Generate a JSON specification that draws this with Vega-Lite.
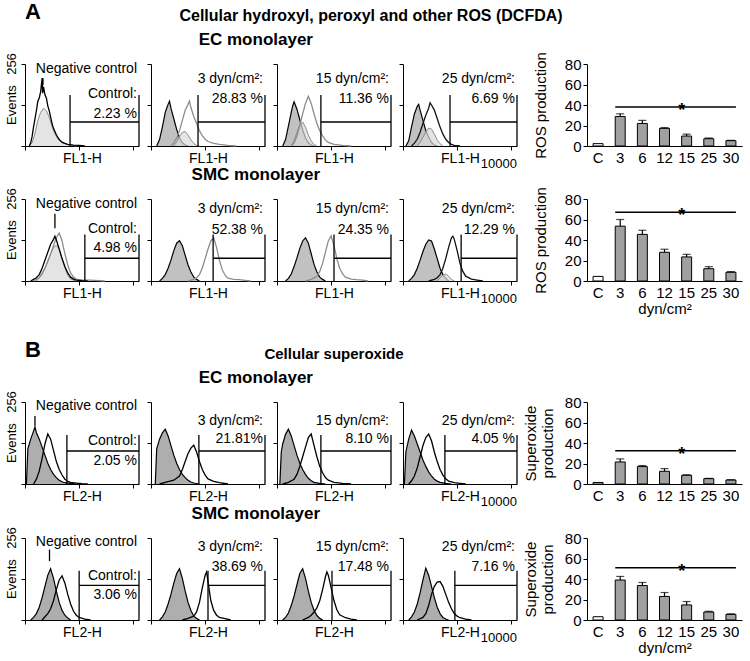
{
"$schema":"https://vega.github.io/schema/vega-lite/v6.json",
"padding":{"left":5,"top":0,"right":5,"bottom":3},
"config":{"font":"Liberation Sans","view":{"stroke":null},"axis":{"domainColor":"black","tickColor":"black","labelColor":"black","titleColor":"black","labelFont":"Liberation Sans","titleFont":"Liberation Sans"},"title":{"color":"black","font":"Liberation Sans"},"text":{"color":"black"}},
"datasets":{
"A1":[
{"p":1,"s":"info","gate":1.58,"nc":0.63,"t1":"Negative control","t2":"Control:","t3":"2.23 %"},
{"p":2,"s":"info","gate":1.65,"t1":"3 dyn/cm²:","t2":"28.83 %"},
{"p":3,"s":"info","gate":1.54,"t1":"15 dyn/cm²:","t2":"11.36 %"},
{"p":4,"s":"info","gate":1.65,"t1":"25 dyn/cm²:","t2":"6.69 %"},
{"p":1,"s":"neg","lg":0.15,"ev":0},{"p":1,"s":"neg","lg":0.2,"ev":10},{"p":1,"s":"neg","lg":0.25,"ev":30},{"p":1,"s":"neg","lg":0.3,"ev":60},{"p":1,"s":"neg","lg":0.35,"ev":85},{"p":1,"s":"neg","lg":0.4,"ev":110},{"p":1,"s":"neg","lg":0.45,"ev":140},{"p":1,"s":"neg","lg":0.5,"ev":150},{"p":1,"s":"neg","lg":0.55,"ev":170},{"p":1,"s":"neg","lg":0.6,"ev":212},{"p":1,"s":"neg","lg":0.62,"ev":165},{"p":1,"s":"neg","lg":0.65,"ev":185},{"p":1,"s":"neg","lg":0.7,"ev":160},{"p":1,"s":"neg","lg":0.75,"ev":150},{"p":1,"s":"neg","lg":0.8,"ev":125},{"p":1,"s":"neg","lg":0.85,"ev":110},{"p":1,"s":"neg","lg":0.9,"ev":90},{"p":1,"s":"neg","lg":0.95,"ev":70},{"p":1,"s":"neg","lg":1.0,"ev":55},{"p":1,"s":"neg","lg":1.1,"ev":35},{"p":1,"s":"neg","lg":1.2,"ev":20},{"p":1,"s":"neg","lg":1.3,"ev":12},{"p":1,"s":"neg","lg":1.4,"ev":8},{"p":1,"s":"neg","lg":1.5,"ev":5},{"p":1,"s":"neg","lg":1.7,"ev":3},{"p":1,"s":"neg","lg":1.9,"ev":2},{"p":1,"s":"neg","lg":2.1,"ev":0},
{"p":1,"s":"lt","lg":0.15,"ev":0},{"p":1,"s":"lt","lg":0.25,"ev":10},{"p":1,"s":"lt","lg":0.35,"ev":40},{"p":1,"s":"lt","lg":0.45,"ev":80},{"p":1,"s":"lt","lg":0.55,"ev":105},{"p":1,"s":"lt","lg":0.65,"ev":118},{"p":1,"s":"lt","lg":0.75,"ev":110},{"p":1,"s":"lt","lg":0.85,"ev":90},{"p":1,"s":"lt","lg":0.95,"ev":60},{"p":1,"s":"lt","lg":1.05,"ev":38},{"p":1,"s":"lt","lg":1.15,"ev":22},{"p":1,"s":"lt","lg":1.3,"ev":10},{"p":1,"s":"lt","lg":1.5,"ev":4},{"p":1,"s":"lt","lg":1.8,"ev":0},
{"p":2,"s":"neg","lg":0.2,"ev":0},{"p":2,"s":"neg","lg":0.3,"ev":20},{"p":2,"s":"neg","lg":0.4,"ev":60},{"p":2,"s":"neg","lg":0.5,"ev":105},{"p":2,"s":"neg","lg":0.55,"ev":118},{"p":2,"s":"neg","lg":0.6,"ev":130},{"p":2,"s":"neg","lg":0.65,"ev":140},{"p":2,"s":"neg","lg":0.7,"ev":118},{"p":2,"s":"neg","lg":0.8,"ev":85},{"p":2,"s":"neg","lg":0.9,"ev":52},{"p":2,"s":"neg","lg":1.0,"ev":26},{"p":2,"s":"neg","lg":1.1,"ev":10},{"p":2,"s":"neg","lg":1.2,"ev":3},{"p":2,"s":"neg","lg":1.3,"ev":0},
{"p":2,"s":"test","lg":0.7,"ev":0},{"p":2,"s":"test","lg":0.8,"ev":10},{"p":2,"s":"test","lg":0.9,"ev":25},{"p":2,"s":"test","lg":1.0,"ev":48},{"p":2,"s":"test","lg":1.1,"ev":80},{"p":2,"s":"test","lg":1.2,"ev":112},{"p":2,"s":"test","lg":1.3,"ev":130},{"p":2,"s":"test","lg":1.35,"ev":140},{"p":2,"s":"test","lg":1.4,"ev":120},{"p":2,"s":"test","lg":1.5,"ev":92},{"p":2,"s":"test","lg":1.6,"ev":70},{"p":2,"s":"test","lg":1.7,"ev":48},{"p":2,"s":"test","lg":1.8,"ev":32},{"p":2,"s":"test","lg":1.9,"ev":21},{"p":2,"s":"test","lg":2.0,"ev":14},{"p":2,"s":"test","lg":2.2,"ev":8},{"p":2,"s":"test","lg":2.4,"ev":5},{"p":2,"s":"test","lg":2.7,"ev":2},{"p":2,"s":"test","lg":3.0,"ev":0},
{"p":2,"s":"lt","lg":0.8,"ev":0},{"p":2,"s":"lt","lg":0.9,"ev":13},{"p":2,"s":"lt","lg":1.0,"ev":30},{"p":2,"s":"lt","lg":1.1,"ev":43},{"p":2,"s":"lt","lg":1.2,"ev":45},{"p":2,"s":"lt","lg":1.3,"ev":34},{"p":2,"s":"lt","lg":1.4,"ev":19},{"p":2,"s":"lt","lg":1.5,"ev":8},{"p":2,"s":"lt","lg":1.6,"ev":2},{"p":2,"s":"lt","lg":1.7,"ev":0},
{"p":3,"s":"neg","lg":0.2,"ev":0},{"p":3,"s":"neg","lg":0.3,"ev":20},{"p":3,"s":"neg","lg":0.4,"ev":62},{"p":3,"s":"neg","lg":0.5,"ev":105},{"p":3,"s":"neg","lg":0.55,"ev":125},{"p":3,"s":"neg","lg":0.6,"ev":138},{"p":3,"s":"neg","lg":0.7,"ev":115},{"p":3,"s":"neg","lg":0.8,"ev":82},{"p":3,"s":"neg","lg":0.9,"ev":50},{"p":3,"s":"neg","lg":1.0,"ev":25},{"p":3,"s":"neg","lg":1.1,"ev":10},{"p":3,"s":"neg","lg":1.2,"ev":3},{"p":3,"s":"neg","lg":1.3,"ev":0},
{"p":3,"s":"test","lg":0.5,"ev":0},{"p":3,"s":"test","lg":0.6,"ev":10},{"p":3,"s":"test","lg":0.7,"ev":32},{"p":3,"s":"test","lg":0.8,"ev":64},{"p":3,"s":"test","lg":0.9,"ev":100},{"p":3,"s":"test","lg":1.0,"ev":133},{"p":3,"s":"test","lg":1.1,"ev":155},{"p":3,"s":"test","lg":1.2,"ev":133},{"p":3,"s":"test","lg":1.3,"ev":100},{"p":3,"s":"test","lg":1.4,"ev":70},{"p":3,"s":"test","lg":1.5,"ev":48},{"p":3,"s":"test","lg":1.6,"ev":32},{"p":3,"s":"test","lg":1.7,"ev":19},{"p":3,"s":"test","lg":1.8,"ev":11},{"p":3,"s":"test","lg":2.0,"ev":5},{"p":3,"s":"test","lg":2.3,"ev":2},{"p":3,"s":"test","lg":2.6,"ev":0},
{"p":3,"s":"lt","lg":0.5,"ev":0},{"p":3,"s":"lt","lg":0.6,"ev":16},{"p":3,"s":"lt","lg":0.7,"ev":43},{"p":3,"s":"lt","lg":0.8,"ev":66},{"p":3,"s":"lt","lg":0.9,"ev":75},{"p":3,"s":"lt","lg":1.0,"ev":59},{"p":3,"s":"lt","lg":1.1,"ev":34},{"p":3,"s":"lt","lg":1.2,"ev":16},{"p":3,"s":"lt","lg":1.3,"ev":5},{"p":3,"s":"lt","lg":1.4,"ev":0},
{"p":4,"s":"neg","lg":0.1,"ev":0},{"p":4,"s":"neg","lg":0.2,"ev":16},{"p":4,"s":"neg","lg":0.3,"ev":60},{"p":4,"s":"neg","lg":0.4,"ev":100},{"p":4,"s":"neg","lg":0.5,"ev":124},{"p":4,"s":"neg","lg":0.55,"ev":130},{"p":4,"s":"neg","lg":0.6,"ev":112},{"p":4,"s":"neg","lg":0.7,"ev":80},{"p":4,"s":"neg","lg":0.8,"ev":48},{"p":4,"s":"neg","lg":0.9,"ev":27},{"p":4,"s":"neg","lg":1.0,"ev":11},{"p":4,"s":"neg","lg":1.1,"ev":3},{"p":4,"s":"neg","lg":1.2,"ev":0},
{"p":4,"s":"test","lg":0.3,"ev":0},{"p":4,"s":"test","lg":0.4,"ev":9},{"p":4,"s":"test","lg":0.5,"ev":21},{"p":4,"s":"test","lg":0.6,"ev":43},{"p":4,"s":"test","lg":0.7,"ev":70},{"p":4,"s":"test","lg":0.8,"ev":96},{"p":4,"s":"test","lg":0.9,"ev":118},{"p":4,"s":"test","lg":0.95,"ev":135},{"p":4,"s":"test","lg":1.0,"ev":128},{"p":4,"s":"test","lg":1.1,"ev":112},{"p":4,"s":"test","lg":1.2,"ev":86},{"p":4,"s":"test","lg":1.3,"ev":59},{"p":4,"s":"test","lg":1.4,"ev":37},{"p":4,"s":"test","lg":1.5,"ev":21},{"p":4,"s":"test","lg":1.6,"ev":11},{"p":4,"s":"test","lg":1.7,"ev":5},{"p":4,"s":"test","lg":1.8,"ev":2},{"p":4,"s":"test","lg":2.0,"ev":0},
{"p":4,"s":"lt","lg":0.5,"ev":0},{"p":4,"s":"lt","lg":0.6,"ev":11},{"p":4,"s":"lt","lg":0.7,"ev":27},{"p":4,"s":"lt","lg":0.8,"ev":43},{"p":4,"s":"lt","lg":0.9,"ev":56},{"p":4,"s":"lt","lg":1.0,"ev":53},{"p":4,"s":"lt","lg":1.1,"ev":37},{"p":4,"s":"lt","lg":1.2,"ev":19},{"p":4,"s":"lt","lg":1.3,"ev":7},{"p":4,"s":"lt","lg":1.4,"ev":0}
],
"A2":[
{"p":1,"s":"info","gate":2.1,"nc":1.05,"t1":"Negative control","t2":"Control:","t3":"4.98 %"},
{"p":2,"s":"info","gate":2.18,"t1":"3 dyn/cm²:","t2":"52.38 %"},
{"p":3,"s":"info","gate":2.0,"t1":"15 dyn/cm²:","t2":"24.35 %"},
{"p":4,"s":"info","gate":2.04,"t1":"25 dyn/cm²:","t2":"12.29 %"},
{"p":1,"s":"neg","lg":0.2,"ev":0},{"p":1,"s":"neg","lg":0.3,"ev":5},{"p":1,"s":"neg","lg":0.4,"ev":10},{"p":1,"s":"neg","lg":0.5,"ev":20},{"p":1,"s":"neg","lg":0.6,"ev":40},{"p":1,"s":"neg","lg":0.7,"ev":65},{"p":1,"s":"neg","lg":0.8,"ev":90},{"p":1,"s":"neg","lg":0.9,"ev":115},{"p":1,"s":"neg","lg":1.0,"ev":130},{"p":1,"s":"neg","lg":1.05,"ev":140},{"p":1,"s":"neg","lg":1.1,"ev":128},{"p":1,"s":"neg","lg":1.2,"ev":100},{"p":1,"s":"neg","lg":1.3,"ev":70},{"p":1,"s":"neg","lg":1.4,"ev":45},{"p":1,"s":"neg","lg":1.5,"ev":25},{"p":1,"s":"neg","lg":1.6,"ev":12},{"p":1,"s":"neg","lg":1.7,"ev":6},{"p":1,"s":"neg","lg":1.8,"ev":3},{"p":1,"s":"neg","lg":2.0,"ev":1},{"p":1,"s":"neg","lg":2.2,"ev":0},
{"p":1,"s":"test","lg":0.3,"ev":0},{"p":1,"s":"test","lg":0.5,"ev":10},{"p":1,"s":"test","lg":0.7,"ev":40},{"p":1,"s":"test","lg":0.9,"ev":85},{"p":1,"s":"test","lg":1.0,"ev":110},{"p":1,"s":"test","lg":1.1,"ev":135},{"p":1,"s":"test","lg":1.2,"ev":150},{"p":1,"s":"test","lg":1.3,"ev":125},{"p":1,"s":"test","lg":1.4,"ev":85},{"p":1,"s":"test","lg":1.5,"ev":50},{"p":1,"s":"test","lg":1.6,"ev":25},{"p":1,"s":"test","lg":1.7,"ev":12},{"p":1,"s":"test","lg":1.8,"ev":6},{"p":1,"s":"test","lg":2.0,"ev":3},{"p":1,"s":"test","lg":2.3,"ev":3},{"p":1,"s":"test","lg":2.6,"ev":1},{"p":1,"s":"test","lg":2.8,"ev":0},
{"p":1,"s":"lt","lg":0.4,"ev":0},{"p":1,"s":"lt","lg":0.6,"ev":20},{"p":1,"s":"lt","lg":0.8,"ev":60},{"p":1,"s":"lt","lg":0.9,"ev":85},{"p":1,"s":"lt","lg":1.0,"ev":105},{"p":1,"s":"lt","lg":1.1,"ev":111},{"p":1,"s":"lt","lg":1.2,"ev":100},{"p":1,"s":"lt","lg":1.3,"ev":70},{"p":1,"s":"lt","lg":1.4,"ev":40},{"p":1,"s":"lt","lg":1.5,"ev":18},{"p":1,"s":"lt","lg":1.6,"ev":6},{"p":1,"s":"lt","lg":1.8,"ev":0},
{"p":2,"s":"neg","lg":0.3,"ev":0},{"p":2,"s":"neg","lg":0.4,"ev":8},{"p":2,"s":"neg","lg":0.5,"ev":20},{"p":2,"s":"neg","lg":0.6,"ev":40},{"p":2,"s":"neg","lg":0.7,"ev":65},{"p":2,"s":"neg","lg":0.8,"ev":95},{"p":2,"s":"neg","lg":0.9,"ev":118},{"p":2,"s":"neg","lg":1.0,"ev":126},{"p":2,"s":"neg","lg":1.1,"ev":110},{"p":2,"s":"neg","lg":1.2,"ev":80},{"p":2,"s":"neg","lg":1.3,"ev":50},{"p":2,"s":"neg","lg":1.4,"ev":28},{"p":2,"s":"neg","lg":1.5,"ev":12},{"p":2,"s":"neg","lg":1.6,"ev":5},{"p":2,"s":"neg","lg":1.7,"ev":0},
{"p":2,"s":"test","lg":1.3,"ev":0},{"p":2,"s":"test","lg":1.5,"ev":5},{"p":2,"s":"test","lg":1.6,"ev":10},{"p":2,"s":"test","lg":1.7,"ev":20},{"p":2,"s":"test","lg":1.8,"ev":40},{"p":2,"s":"test","lg":1.9,"ev":70},{"p":2,"s":"test","lg":2.0,"ev":100},{"p":2,"s":"test","lg":2.1,"ev":125},{"p":2,"s":"test","lg":2.2,"ev":135},{"p":2,"s":"test","lg":2.3,"ev":105},{"p":2,"s":"test","lg":2.4,"ev":65},{"p":2,"s":"test","lg":2.5,"ev":35},{"p":2,"s":"test","lg":2.6,"ev":18},{"p":2,"s":"test","lg":2.7,"ev":9},{"p":2,"s":"test","lg":2.9,"ev":5},{"p":2,"s":"test","lg":3.1,"ev":4},{"p":2,"s":"test","lg":3.3,"ev":2},{"p":2,"s":"test","lg":3.5,"ev":0},
{"p":3,"s":"neg","lg":0.3,"ev":0},{"p":3,"s":"neg","lg":0.4,"ev":8},{"p":3,"s":"neg","lg":0.5,"ev":22},{"p":3,"s":"neg","lg":0.6,"ev":45},{"p":3,"s":"neg","lg":0.7,"ev":72},{"p":3,"s":"neg","lg":0.8,"ev":102},{"p":3,"s":"neg","lg":0.9,"ev":125},{"p":3,"s":"neg","lg":1.0,"ev":135},{"p":3,"s":"neg","lg":1.1,"ev":118},{"p":3,"s":"neg","lg":1.2,"ev":85},{"p":3,"s":"neg","lg":1.3,"ev":52},{"p":3,"s":"neg","lg":1.4,"ev":28},{"p":3,"s":"neg","lg":1.5,"ev":12},{"p":3,"s":"neg","lg":1.6,"ev":5},{"p":3,"s":"neg","lg":1.7,"ev":0},
{"p":3,"s":"test","lg":1.0,"ev":0},{"p":3,"s":"test","lg":1.2,"ev":5},{"p":3,"s":"test","lg":1.4,"ev":15},{"p":3,"s":"test","lg":1.5,"ev":30},{"p":3,"s":"test","lg":1.6,"ev":55},{"p":3,"s":"test","lg":1.7,"ev":90},{"p":3,"s":"test","lg":1.8,"ev":125},{"p":3,"s":"test","lg":1.9,"ev":141},{"p":3,"s":"test","lg":2.0,"ev":110},{"p":3,"s":"test","lg":2.1,"ev":70},{"p":3,"s":"test","lg":2.2,"ev":40},{"p":3,"s":"test","lg":2.3,"ev":22},{"p":3,"s":"test","lg":2.4,"ev":12},{"p":3,"s":"test","lg":2.6,"ev":6},{"p":3,"s":"test","lg":2.8,"ev":4},{"p":3,"s":"test","lg":3.0,"ev":3},{"p":3,"s":"test","lg":3.2,"ev":0},
{"p":4,"s":"neg","lg":0.2,"ev":0},{"p":4,"s":"neg","lg":0.3,"ev":8},{"p":4,"s":"neg","lg":0.4,"ev":20},{"p":4,"s":"neg","lg":0.5,"ev":40},{"p":4,"s":"neg","lg":0.6,"ev":65},{"p":4,"s":"neg","lg":0.7,"ev":92},{"p":4,"s":"neg","lg":0.8,"ev":115},{"p":4,"s":"neg","lg":0.9,"ev":128},{"p":4,"s":"neg","lg":1.0,"ev":125},{"p":4,"s":"neg","lg":1.1,"ev":100},{"p":4,"s":"neg","lg":1.2,"ev":70},{"p":4,"s":"neg","lg":1.3,"ev":40},{"p":4,"s":"neg","lg":1.4,"ev":20},{"p":4,"s":"neg","lg":1.5,"ev":8},{"p":4,"s":"neg","lg":1.6,"ev":0},
{"p":4,"s":"test","lg":0.9,"ev":0},{"p":4,"s":"test","lg":1.1,"ev":5},{"p":4,"s":"test","lg":1.2,"ev":10},{"p":4,"s":"test","lg":1.3,"ev":20},{"p":4,"s":"test","lg":1.4,"ev":40},{"p":4,"s":"test","lg":1.5,"ev":70},{"p":4,"s":"test","lg":1.6,"ev":105},{"p":4,"s":"test","lg":1.7,"ev":135},{"p":4,"s":"test","lg":1.75,"ev":140},{"p":4,"s":"test","lg":1.8,"ev":130},{"p":4,"s":"test","lg":1.9,"ev":95},{"p":4,"s":"test","lg":2.0,"ev":55},{"p":4,"s":"test","lg":2.1,"ev":30},{"p":4,"s":"test","lg":2.2,"ev":15},{"p":4,"s":"test","lg":2.4,"ev":6},{"p":4,"s":"test","lg":2.6,"ev":3},{"p":4,"s":"test","lg":2.8,"ev":0},
{"p":4,"s":"lt","lg":1.2,"ev":0},{"p":4,"s":"lt","lg":1.3,"ev":10},{"p":4,"s":"lt","lg":1.4,"ev":18},{"p":4,"s":"lt","lg":1.5,"ev":22},{"p":4,"s":"lt","lg":1.6,"ev":15},{"p":4,"s":"lt","lg":1.7,"ev":5},{"p":4,"s":"lt","lg":1.8,"ev":0}
],
"B1":[
{"p":1,"s":"info","gate":1.47,"nc":0.35,"t1":"Negative control","t2":"Control:","t3":"2.05 %"},
{"p":2,"s":"info","gate":1.68,"t1":"3 dyn/cm²:","t2":"21.81%"},
{"p":3,"s":"info","gate":1.54,"t1":"15 dyn/cm²:","t2":"8.10 %"},
{"p":4,"s":"info","gate":1.47,"t1":"25 dyn/cm²:","t2":"4.05 %"},
{"p":1,"s":"neg","lg":0.05,"ev":0},{"p":1,"s":"neg","lg":0.1,"ev":110},{"p":1,"s":"neg","lg":0.2,"ev":140},{"p":1,"s":"neg","lg":0.3,"ev":165},{"p":1,"s":"neg","lg":0.35,"ev":178},{"p":1,"s":"neg","lg":0.4,"ev":160},{"p":1,"s":"neg","lg":0.5,"ev":140},{"p":1,"s":"neg","lg":0.6,"ev":115},{"p":1,"s":"neg","lg":0.7,"ev":90},{"p":1,"s":"neg","lg":0.8,"ev":65},{"p":1,"s":"neg","lg":0.9,"ev":45},{"p":1,"s":"neg","lg":1.0,"ev":30},{"p":1,"s":"neg","lg":1.1,"ev":20},{"p":1,"s":"neg","lg":1.2,"ev":12},{"p":1,"s":"neg","lg":1.3,"ev":7},{"p":1,"s":"neg","lg":1.4,"ev":4},{"p":1,"s":"neg","lg":1.6,"ev":2},{"p":1,"s":"neg","lg":1.8,"ev":0},
{"p":1,"s":"test","lg":0.3,"ev":0},{"p":1,"s":"test","lg":0.4,"ev":15},{"p":1,"s":"test","lg":0.5,"ev":40},{"p":1,"s":"test","lg":0.6,"ev":80},{"p":1,"s":"test","lg":0.7,"ev":125},{"p":1,"s":"test","lg":0.8,"ev":156},{"p":1,"s":"test","lg":0.9,"ev":140},{"p":1,"s":"test","lg":1.0,"ev":105},{"p":1,"s":"test","lg":1.1,"ev":70},{"p":1,"s":"test","lg":1.2,"ev":45},{"p":1,"s":"test","lg":1.3,"ev":28},{"p":1,"s":"test","lg":1.4,"ev":15},{"p":1,"s":"test","lg":1.5,"ev":8},{"p":1,"s":"test","lg":1.6,"ev":5},{"p":1,"s":"test","lg":1.8,"ev":3},{"p":1,"s":"test","lg":2.0,"ev":1},{"p":1,"s":"test","lg":2.2,"ev":0},
{"p":2,"s":"neg","lg":0.15,"ev":0},{"p":2,"s":"neg","lg":0.2,"ev":110},{"p":2,"s":"neg","lg":0.3,"ev":140},{"p":2,"s":"neg","lg":0.4,"ev":160},{"p":2,"s":"neg","lg":0.5,"ev":171},{"p":2,"s":"neg","lg":0.6,"ev":150},{"p":2,"s":"neg","lg":0.7,"ev":120},{"p":2,"s":"neg","lg":0.8,"ev":90},{"p":2,"s":"neg","lg":0.9,"ev":65},{"p":2,"s":"neg","lg":1.0,"ev":45},{"p":2,"s":"neg","lg":1.1,"ev":30},{"p":2,"s":"neg","lg":1.2,"ev":20},{"p":2,"s":"neg","lg":1.3,"ev":12},{"p":2,"s":"neg","lg":1.4,"ev":6},{"p":2,"s":"neg","lg":1.5,"ev":3},{"p":2,"s":"neg","lg":1.7,"ev":0},
{"p":2,"s":"test","lg":0.3,"ev":0},{"p":2,"s":"test","lg":0.5,"ev":5},{"p":2,"s":"test","lg":0.8,"ev":12},{"p":2,"s":"test","lg":1.0,"ev":25},{"p":2,"s":"test","lg":1.1,"ev":45},{"p":2,"s":"test","lg":1.2,"ev":70},{"p":2,"s":"test","lg":1.3,"ev":95},{"p":2,"s":"test","lg":1.4,"ev":112},{"p":2,"s":"test","lg":1.5,"ev":121},{"p":2,"s":"test","lg":1.6,"ev":100},{"p":2,"s":"test","lg":1.7,"ev":70},{"p":2,"s":"test","lg":1.8,"ev":45},{"p":2,"s":"test","lg":1.9,"ev":28},{"p":2,"s":"test","lg":2.0,"ev":16},{"p":2,"s":"test","lg":2.2,"ev":8},{"p":2,"s":"test","lg":2.4,"ev":4},{"p":2,"s":"test","lg":2.7,"ev":0},
{"p":3,"s":"neg","lg":0.1,"ev":0},{"p":3,"s":"neg","lg":0.15,"ev":100},{"p":3,"s":"neg","lg":0.2,"ev":125},{"p":3,"s":"neg","lg":0.3,"ev":155},{"p":3,"s":"neg","lg":0.4,"ev":171},{"p":3,"s":"neg","lg":0.5,"ev":150},{"p":3,"s":"neg","lg":0.6,"ev":120},{"p":3,"s":"neg","lg":0.7,"ev":90},{"p":3,"s":"neg","lg":0.8,"ev":65},{"p":3,"s":"neg","lg":0.9,"ev":45},{"p":3,"s":"neg","lg":1.0,"ev":30},{"p":3,"s":"neg","lg":1.1,"ev":18},{"p":3,"s":"neg","lg":1.2,"ev":10},{"p":3,"s":"neg","lg":1.3,"ev":5},{"p":3,"s":"neg","lg":1.5,"ev":2},{"p":3,"s":"neg","lg":1.7,"ev":0},
{"p":3,"s":"test","lg":0.2,"ev":0},{"p":3,"s":"test","lg":0.4,"ev":5},{"p":3,"s":"test","lg":0.6,"ev":15},{"p":3,"s":"test","lg":0.7,"ev":30},{"p":3,"s":"test","lg":0.8,"ev":55},{"p":3,"s":"test","lg":0.9,"ev":85},{"p":3,"s":"test","lg":1.0,"ev":115},{"p":3,"s":"test","lg":1.1,"ev":145},{"p":3,"s":"test","lg":1.2,"ev":156},{"p":3,"s":"test","lg":1.3,"ev":120},{"p":3,"s":"test","lg":1.4,"ev":85},{"p":3,"s":"test","lg":1.5,"ev":55},{"p":3,"s":"test","lg":1.6,"ev":35},{"p":3,"s":"test","lg":1.7,"ev":20},{"p":3,"s":"test","lg":1.8,"ev":12},{"p":3,"s":"test","lg":2.0,"ev":5},{"p":3,"s":"test","lg":2.3,"ev":2},{"p":3,"s":"test","lg":2.6,"ev":0},
{"p":4,"s":"neg","lg":0.05,"ev":0},{"p":4,"s":"neg","lg":0.1,"ev":100},{"p":4,"s":"neg","lg":0.2,"ev":140},{"p":4,"s":"neg","lg":0.3,"ev":168},{"p":4,"s":"neg","lg":0.4,"ev":150},{"p":4,"s":"neg","lg":0.5,"ev":125},{"p":4,"s":"neg","lg":0.6,"ev":100},{"p":4,"s":"neg","lg":0.7,"ev":75},{"p":4,"s":"neg","lg":0.8,"ev":55},{"p":4,"s":"neg","lg":0.9,"ev":38},{"p":4,"s":"neg","lg":1.0,"ev":25},{"p":4,"s":"neg","lg":1.1,"ev":15},{"p":4,"s":"neg","lg":1.2,"ev":9},{"p":4,"s":"neg","lg":1.3,"ev":5},{"p":4,"s":"neg","lg":1.5,"ev":2},{"p":4,"s":"neg","lg":1.7,"ev":0},
{"p":4,"s":"test","lg":0.2,"ev":0},{"p":4,"s":"test","lg":0.3,"ev":10},{"p":4,"s":"test","lg":0.4,"ev":25},{"p":4,"s":"test","lg":0.5,"ev":50},{"p":4,"s":"test","lg":0.6,"ev":85},{"p":4,"s":"test","lg":0.7,"ev":120},{"p":4,"s":"test","lg":0.8,"ev":145},{"p":4,"s":"test","lg":0.9,"ev":156},{"p":4,"s":"test","lg":1.0,"ev":135},{"p":4,"s":"test","lg":1.1,"ev":100},{"p":4,"s":"test","lg":1.2,"ev":70},{"p":4,"s":"test","lg":1.3,"ev":45},{"p":4,"s":"test","lg":1.4,"ev":28},{"p":4,"s":"test","lg":1.5,"ev":16},{"p":4,"s":"test","lg":1.6,"ev":9},{"p":4,"s":"test","lg":1.8,"ev":4},{"p":4,"s":"test","lg":2.0,"ev":2},{"p":4,"s":"test","lg":2.2,"ev":0}
],
"B2":[
{"p":1,"s":"info","gate":1.9,"nc":0.86,"t1":"Negative control","t2":"Control:","t3":"3.06 %"},
{"p":2,"s":"info","gate":2.0,"t1":"3 dyn/cm²:","t2":"38.69 %"},
{"p":3,"s":"info","gate":1.93,"t1":"15 dyn/cm²:","t2":"17.48 %"},
{"p":4,"s":"info","gate":1.82,"t1":"25 dyn/cm²:","t2":"7.16 %"},
{"p":1,"s":"neg","lg":0.2,"ev":0},{"p":1,"s":"neg","lg":0.3,"ev":8},{"p":1,"s":"neg","lg":0.4,"ev":20},{"p":1,"s":"neg","lg":0.5,"ev":40},{"p":1,"s":"neg","lg":0.6,"ev":70},{"p":1,"s":"neg","lg":0.7,"ev":105},{"p":1,"s":"neg","lg":0.8,"ev":140},{"p":1,"s":"neg","lg":0.9,"ev":160},{"p":1,"s":"neg","lg":1.0,"ev":130},{"p":1,"s":"neg","lg":1.1,"ev":90},{"p":1,"s":"neg","lg":1.2,"ev":55},{"p":1,"s":"neg","lg":1.3,"ev":30},{"p":1,"s":"neg","lg":1.4,"ev":15},{"p":1,"s":"neg","lg":1.5,"ev":6},{"p":1,"s":"neg","lg":1.6,"ev":0},
{"p":1,"s":"test","lg":0.6,"ev":0},{"p":1,"s":"test","lg":0.7,"ev":10},{"p":1,"s":"test","lg":0.8,"ev":20},{"p":1,"s":"test","lg":0.9,"ev":35},{"p":1,"s":"test","lg":1.0,"ev":60},{"p":1,"s":"test","lg":1.1,"ev":95},{"p":1,"s":"test","lg":1.2,"ev":125},{"p":1,"s":"test","lg":1.3,"ev":138},{"p":1,"s":"test","lg":1.4,"ev":115},{"p":1,"s":"test","lg":1.5,"ev":80},{"p":1,"s":"test","lg":1.6,"ev":50},{"p":1,"s":"test","lg":1.7,"ev":28},{"p":1,"s":"test","lg":1.8,"ev":15},{"p":1,"s":"test","lg":1.9,"ev":8},{"p":1,"s":"test","lg":2.1,"ev":3},{"p":1,"s":"test","lg":2.3,"ev":0},
{"p":2,"s":"neg","lg":0.3,"ev":0},{"p":2,"s":"neg","lg":0.4,"ev":10},{"p":2,"s":"neg","lg":0.5,"ev":25},{"p":2,"s":"neg","lg":0.6,"ev":50},{"p":2,"s":"neg","lg":0.7,"ev":80},{"p":2,"s":"neg","lg":0.8,"ev":115},{"p":2,"s":"neg","lg":0.9,"ev":145},{"p":2,"s":"neg","lg":1.0,"ev":160},{"p":2,"s":"neg","lg":1.1,"ev":130},{"p":2,"s":"neg","lg":1.2,"ev":90},{"p":2,"s":"neg","lg":1.3,"ev":55},{"p":2,"s":"neg","lg":1.4,"ev":30},{"p":2,"s":"neg","lg":1.5,"ev":12},{"p":2,"s":"neg","lg":1.6,"ev":5},{"p":2,"s":"neg","lg":1.7,"ev":0},
{"p":2,"s":"test","lg":1.1,"ev":0},{"p":2,"s":"test","lg":1.3,"ev":5},{"p":2,"s":"test","lg":1.5,"ev":12},{"p":2,"s":"test","lg":1.6,"ev":25},{"p":2,"s":"test","lg":1.7,"ev":55},{"p":2,"s":"test","lg":1.8,"ev":100},{"p":2,"s":"test","lg":1.9,"ev":140},{"p":2,"s":"test","lg":1.95,"ev":150},{"p":2,"s":"test","lg":2.0,"ev":120},{"p":2,"s":"test","lg":2.1,"ev":60},{"p":2,"s":"test","lg":2.2,"ev":30},{"p":2,"s":"test","lg":2.3,"ev":15},{"p":2,"s":"test","lg":2.4,"ev":8},{"p":2,"s":"test","lg":2.6,"ev":4},{"p":2,"s":"test","lg":2.8,"ev":0},
{"p":3,"s":"neg","lg":0.2,"ev":0},{"p":3,"s":"neg","lg":0.3,"ev":8},{"p":3,"s":"neg","lg":0.4,"ev":22},{"p":3,"s":"neg","lg":0.5,"ev":45},{"p":3,"s":"neg","lg":0.6,"ev":75},{"p":3,"s":"neg","lg":0.7,"ev":110},{"p":3,"s":"neg","lg":0.8,"ev":145},{"p":3,"s":"neg","lg":0.9,"ev":160},{"p":3,"s":"neg","lg":1.0,"ev":130},{"p":3,"s":"neg","lg":1.1,"ev":90},{"p":3,"s":"neg","lg":1.2,"ev":55},{"p":3,"s":"neg","lg":1.3,"ev":30},{"p":3,"s":"neg","lg":1.4,"ev":14},{"p":3,"s":"neg","lg":1.5,"ev":5},{"p":3,"s":"neg","lg":1.6,"ev":0},
{"p":3,"s":"test","lg":0.9,"ev":0},{"p":3,"s":"test","lg":1.1,"ev":8},{"p":3,"s":"test","lg":1.2,"ev":15},{"p":3,"s":"test","lg":1.3,"ev":25},{"p":3,"s":"test","lg":1.4,"ev":38},{"p":3,"s":"test","lg":1.5,"ev":60},{"p":3,"s":"test","lg":1.6,"ev":95},{"p":3,"s":"test","lg":1.7,"ev":135},{"p":3,"s":"test","lg":1.75,"ev":150},{"p":3,"s":"test","lg":1.8,"ev":140},{"p":3,"s":"test","lg":1.9,"ev":100},{"p":3,"s":"test","lg":2.0,"ev":60},{"p":3,"s":"test","lg":2.1,"ev":32},{"p":3,"s":"test","lg":2.2,"ev":16},{"p":3,"s":"test","lg":2.4,"ev":7},{"p":3,"s":"test","lg":2.6,"ev":3},{"p":3,"s":"test","lg":2.8,"ev":0},
{"p":4,"s":"neg","lg":0.2,"ev":0},{"p":4,"s":"neg","lg":0.3,"ev":10},{"p":4,"s":"neg","lg":0.4,"ev":25},{"p":4,"s":"neg","lg":0.5,"ev":50},{"p":4,"s":"neg","lg":0.6,"ev":85},{"p":4,"s":"neg","lg":0.7,"ev":125},{"p":4,"s":"neg","lg":0.8,"ev":162},{"p":4,"s":"neg","lg":0.9,"ev":140},{"p":4,"s":"neg","lg":1.0,"ev":105},{"p":4,"s":"neg","lg":1.1,"ev":70},{"p":4,"s":"neg","lg":1.2,"ev":40},{"p":4,"s":"neg","lg":1.3,"ev":20},{"p":4,"s":"neg","lg":1.4,"ev":8},{"p":4,"s":"neg","lg":1.5,"ev":3},{"p":4,"s":"neg","lg":1.6,"ev":0},
{"p":4,"s":"test","lg":0.5,"ev":0},{"p":4,"s":"test","lg":0.7,"ev":8},{"p":4,"s":"test","lg":0.8,"ev":20},{"p":4,"s":"test","lg":0.9,"ev":45},{"p":4,"s":"test","lg":1.0,"ev":80},{"p":4,"s":"test","lg":1.1,"ev":105},{"p":4,"s":"test","lg":1.2,"ev":118},{"p":4,"s":"test","lg":1.3,"ev":120},{"p":4,"s":"test","lg":1.4,"ev":105},{"p":4,"s":"test","lg":1.5,"ev":80},{"p":4,"s":"test","lg":1.6,"ev":55},{"p":4,"s":"test","lg":1.7,"ev":35},{"p":4,"s":"test","lg":1.8,"ev":20},{"p":4,"s":"test","lg":1.9,"ev":12},{"p":4,"s":"test","lg":2.0,"ev":7},{"p":4,"s":"test","lg":2.2,"ev":3},{"p":4,"s":"test","lg":2.4,"ev":0}
],
"bars":[
{"g":"A1","c":"C","v":2.3},{"g":"A1","c":"3","v":28.8,"hi":31.4},{"g":"A1","c":"6","v":22,"hi":25},{"g":"A1","c":"12","v":17.2,"hi":18},{"g":"A1","c":"15","v":9.7,"hi":11.6},{"g":"A1","c":"25","v":7.1,"hi":7.8},{"g":"A1","c":"30","v":5.2,"hi":5.5},
{"g":"A2","c":"C","v":4.5},{"g":"A2","c":"3","v":53.5,"hi":60},{"g":"A2","c":"6","v":45.5,"hi":49.5},{"g":"A2","c":"12","v":28,"hi":31},{"g":"A2","c":"15","v":23.5,"hi":26},{"g":"A2","c":"25","v":12,"hi":14},{"g":"A2","c":"30","v":8.5,"hi":9.2},
{"g":"B1","c":"C","v":1.5},{"g":"B1","c":"3","v":21.5,"hi":24.5},{"g":"B1","c":"6","v":17,"hi":18},{"g":"B1","c":"12","v":12.4,"hi":15},{"g":"B1","c":"15","v":8.5,"hi":9},{"g":"B1","c":"25","v":5.2,"hi":5.5},{"g":"B1","c":"30","v":3.9,"hi":4.2},
{"g":"B2","c":"C","v":3.2},{"g":"B2","c":"3","v":39,"hi":42.5},{"g":"B2","c":"6","v":33.6,"hi":36.6},{"g":"B2","c":"12","v":23,"hi":26.8},{"g":"B2","c":"15","v":14.7,"hi":18},{"g":"B2","c":"25","v":7.8,"hi":8.5},{"g":"B2","c":"30","v":5.5,"hi":6}
],
"sig":[
{"g":"A1","from":"3","to":"30","lvl":38},{"g":"A2","from":"3","to":"30","lvl":67},{"g":"B1","from":"3","to":"30","lvl":32.5},{"g":"B2","from":"3","to":"30","lvl":51}
]
},
"spacing":22,
"vconcat":[
{"spacing":-4,"vconcat":[
 {"spacing":0,"hconcat":[
  {"width":1,"height":1,"data":{"values":[{}]},"mark":{"type":"text","text":""},"title":{"text":"A","anchor":"start","fontSize":22,"fontWeight":"bold","offset":0}},
  {"width":660,"height":1,"data":{"values":[{}]},"mark":{"type":"text","text":""},"title":{"text":"Cellular hydroxyl, peroxyl and other ROS (DCFDA)","anchor":"middle","fontSize":16,"fontWeight":"bold","offset":0}}
 ]},
 {"spacing":-5,"vconcat":[
 {"spacing":15,"hconcat":[
  {"data":{"name":"A1"},"title":{"text":"EC monolayer","anchor":"middle","fontSize":17,"fontWeight":"bold","offset":4,"dx":-6},
   "facet":{"column":{"field":"p","type":"ordinal","header":null}},"spacing":12,"bounds":"flush","resolve":{"axis":{"y":"independent"}},
   "spec":{"width":114,"height":82,"layer":[
    {"encoding":{
     "x":{"field":"lg","type":"quantitative","title":"FL1-H","scale":{"domain":[0,4],"nice":false,"zero":false},"axis":{"values":[0,0.301,0.477,0.602,0.699,0.778,0.845,0.903,0.954,1,1.301,1.477,1.602,1.699,1.778,1.845,1.903,1.954,2,2.301,2.477,2.602,2.699,2.778,2.845,2.903,2.954,3,3.301,3.477,3.602,3.699,3.778,3.845,3.903,3.954,4],"labels":false,"grid":false,"tickSize":4,"titleFontSize":14,"titleFontWeight":"normal","titlePadding":1}},
     "y":{"field":"ev","type":"quantitative","stack":null,"title":null,"scale":{"domain":[0,256],"nice":false},"axis":{"values":[0,32,64,96,128,160,192,224,256],"labels":false,"grid":false,"tickSize":4}}},
     "layer":[
     {"transform":[{"filter":"datum.s=='neg' && datum.p>1"}],"mark":{"type":"area","color":"#a6a6a6","line":{"color":"black","strokeWidth":1.2}}},
     {"transform":[{"filter":"datum.s=='lt'"}],"mark":{"type":"area","color":"#d9d9d9","line":{"color":"#8c8c8c","strokeWidth":1}}},
     {"transform":[{"filter":"datum.s=='test'"}],"mark":{"type":"line","strokeWidth":1.3},"encoding":{"color":{"field":"p","type":"nominal","scale":{"domain":[1,2,3,4],"range":["#8c8c8c","#8c8c8c","#8c8c8c","#111111"]},"legend":null}}},
     {"transform":[{"filter":"datum.s=='neg' && datum.p==1"}],"mark":{"type":"line","color":"black","strokeWidth":1.3}}
    ]},
    {"transform":[{"filter":"datum.s=='info'"}],"mark":{"type":"rule","color":"black","strokeWidth":1.3},"encoding":{"x":{"field":"gate","type":"quantitative"},"x2":{"datum":4},"y":{"datum":75}}},
    {"transform":[{"filter":"datum.s=='info'"}],"mark":{"type":"rule","color":"black","strokeWidth":1.3},"encoding":{"x":{"field":"gate","type":"quantitative"},"y":{"datum":0},"y2":{"datum":159}}},
    {"transform":[{"filter":"datum.s=='info'"}],"mark":{"type":"rule","color":"black","strokeWidth":1.3},"encoding":{"x":{"datum":4},"y":{"datum":0},"y2":{"datum":159}}},
    {"transform":[{"filter":"datum.s=='info' && datum.p==1"}],"mark":{"type":"text","align":"right","baseline":"middle","dx":-2,"fontSize":14},"encoding":{"x":{"datum":4},"y":{"datum":240},"text":{"field":"t1"}}},
    {"transform":[{"filter":"datum.s=='info' && datum.p==1"}],"mark":{"type":"text","align":"right","baseline":"middle","dx":-2,"fontSize":14},"encoding":{"x":{"datum":4},"y":{"datum":162},"text":{"field":"t2"}}},
    {"transform":[{"filter":"datum.s=='info' && datum.p==1"}],"mark":{"type":"text","align":"right","baseline":"middle","dx":-2,"fontSize":14},"encoding":{"x":{"datum":4},"y":{"datum":100},"text":{"field":"t3"}}},
    {"transform":[{"filter":"datum.s=='info' && datum.p>1"}],"mark":{"type":"text","align":"right","baseline":"middle","dx":-2,"fontSize":14},"encoding":{"x":{"datum":4},"y":{"datum":209},"text":{"field":"t1"}}},
    {"transform":[{"filter":"datum.s=='info' && datum.p>1"}],"mark":{"type":"text","align":"right","baseline":"middle","dx":-2,"fontSize":14},"encoding":{"x":{"datum":4},"y":{"datum":147},"text":{"field":"t2"}}},
    {"transform":[{"filter":"datum.s=='info' && datum.p==1"}],"mark":{"type":"rule","color":"black","strokeWidth":1.3},"encoding":{"x":{"field":"nc","type":"quantitative"},"y":{"datum":212},"y2":{"datum":190}}},
    {"transform":[{"filter":"datum.s=='info' && datum.p==1"}],"mark":{"type":"text","text":"256","angle":270,"align":"center","baseline":"bottom","dy":-6,"fontSize":13},"encoding":{"x":{"datum":0},"y":{"datum":256}}},
    {"transform":[{"filter":"datum.s=='info' && datum.p==1"}],"mark":{"type":"text","text":"Events","angle":270,"align":"center","baseline":"bottom","dy":-6,"fontSize":13},"encoding":{"x":{"datum":0},"y":{"datum":128}}},
    {"transform":[{"filter":"datum.s=='info' && datum.p==4"}],"mark":{"type":"text","text":"10000","align":"right","baseline":"middle","dy":18,"fontSize":13},"encoding":{"x":{"datum":4},"y":{"datum":0}}}
   ]}
  },
  {"width":155,"height":82,"title":{"text":" ","fontSize":17,"offset":-12},"layer":[
   {"data":{"name":"bars"},"transform":[{"filter":"datum.g=='A1'"}],"mark":{"type":"bar","stroke":"black","strokeWidth":1},"encoding":{"x":{"field":"c","type":"nominal","scale":{"domain":["C","3","6","12","15","25","30"],"paddingInner":0.55,"paddingOuter":0.275},"axis":{"title":null,"labelAngle":0,"ticks":false,"labelFontSize":15,"labelPadding":4}},"y":{"field":"v","type":"quantitative","title":"ROS production","scale":{"domain":[0,80],"nice":false},"axis":{"values":[0,20,40,60,80],"labelOverlap":false,"grid":false,"tickSize":4,"labelFontSize":15,"titleFontSize":15,"titleFontWeight":"normal","titlePadding":16,"labelPadding":2}},"color":{"condition":{"test":"datum.c=='C'","value":"white"},"value":"#a0a0a0"}}},
   {"data":{"name":"bars"},"transform":[{"filter":"datum.g=='A1' && datum.hi != null"}],"mark":{"type":"rule","color":"black","strokeWidth":1.2},"encoding":{"x":{"field":"c","type":"nominal"},"y":{"field":"v","type":"quantitative","axis":{"values":[0,20,40,60,80],"labelOverlap":false}},"y2":{"field":"hi"}}},
   {"data":{"name":"bars"},"transform":[{"filter":"datum.g=='A1' && datum.hi != null"}],"mark":{"type":"tick","color":"black","thickness":1.2,"size":8},"encoding":{"x":{"field":"c","type":"nominal"},"y":{"field":"hi","type":"quantitative","axis":{"values":[0,20,40,60,80],"labelOverlap":false}}}},
   {"data":{"name":"sig"},"transform":[{"filter":"datum.g=='A1'"}],"mark":{"type":"rule","color":"black","strokeWidth":1.5},"encoding":{"x":{"field":"from","type":"nominal","bandPosition":0},"x2":{"field":"to","bandPosition":1},"y":{"field":"lvl","type":"quantitative","axis":{"values":[0,20,40,60,80],"labelOverlap":false}}}},
   {"data":{"name":"sig"},"transform":[{"filter":"datum.g=='A1'"}],"mark":{"type":"text","text":"*","fontSize":18,"fontWeight":"bold","dx":-5,"dy":9,"baseline":"alphabetic"},"encoding":{"x":{"datum":"15"},"y":{"field":"lvl","type":"quantitative","axis":{"values":[0,20,40,60,80],"labelOverlap":false}}}}
  ]}
 ]},
 {"spacing":15,"hconcat":[
  {"data":{"name":"A2"},"title":{"text":"SMC monolayer","anchor":"middle","fontSize":17,"fontWeight":"bold","offset":4,"dx":-6},
   "facet":{"column":{"field":"p","type":"ordinal","header":null}},"spacing":12,"bounds":"flush","resolve":{"axis":{"y":"independent"}},
   "spec":{"width":114,"height":82,"layer":[
    {"encoding":{
     "x":{"field":"lg","type":"quantitative","title":"FL1-H","scale":{"domain":[0,4],"nice":false,"zero":false},"axis":{"values":[0,0.301,0.477,0.602,0.699,0.778,0.845,0.903,0.954,1,1.301,1.477,1.602,1.699,1.778,1.845,1.903,1.954,2,2.301,2.477,2.602,2.699,2.778,2.845,2.903,2.954,3,3.301,3.477,3.602,3.699,3.778,3.845,3.903,3.954,4],"labels":false,"grid":false,"tickSize":4,"titleFontSize":14,"titleFontWeight":"normal","titlePadding":1}},
     "y":{"field":"ev","type":"quantitative","stack":null,"title":null,"scale":{"domain":[0,256],"nice":false},"axis":{"values":[0,32,64,96,128,160,192,224,256],"labels":false,"grid":false,"tickSize":4}}},
     "layer":[
     {"transform":[{"filter":"datum.s=='neg' && datum.p>1"}],"mark":{"type":"area","color":"#a6a6a6","line":{"color":"black","strokeWidth":1.2}}},
     {"transform":[{"filter":"datum.s=='lt'"}],"mark":{"type":"area","color":"#d9d9d9","line":{"color":"#8c8c8c","strokeWidth":1}}},
     {"transform":[{"filter":"datum.s=='test'"}],"mark":{"type":"line","strokeWidth":1.3},"encoding":{"color":{"field":"p","type":"nominal","scale":{"domain":[1,2,3,4],"range":["#8c8c8c","#444444","#8c8c8c","#111111"]},"legend":null}}},
     {"transform":[{"filter":"datum.s=='neg' && datum.p==1"}],"mark":{"type":"line","color":"black","strokeWidth":1.3}}
    ]},
    {"transform":[{"filter":"datum.s=='info'"}],"mark":{"type":"rule","color":"black","strokeWidth":1.3},"encoding":{"x":{"field":"gate","type":"quantitative"},"x2":{"datum":4},"y":{"datum":71}}},
    {"transform":[{"filter":"datum.s=='info'"}],"mark":{"type":"rule","color":"black","strokeWidth":1.3},"encoding":{"x":{"field":"gate","type":"quantitative"},"y":{"datum":0},"y2":{"datum":145}}},
    {"transform":[{"filter":"datum.s=='info'"}],"mark":{"type":"rule","color":"black","strokeWidth":1.3},"encoding":{"x":{"datum":4},"y":{"datum":0},"y2":{"datum":145}}},
    {"transform":[{"filter":"datum.s=='info' && datum.p==1"}],"mark":{"type":"text","align":"right","baseline":"middle","dx":-2,"fontSize":14},"encoding":{"x":{"datum":4},"y":{"datum":240},"text":{"field":"t1"}}},
    {"transform":[{"filter":"datum.s=='info' && datum.p==1"}],"mark":{"type":"text","align":"right","baseline":"middle","dx":-2,"fontSize":14},"encoding":{"x":{"datum":4},"y":{"datum":163},"text":{"field":"t2"}}},
    {"transform":[{"filter":"datum.s=='info' && datum.p==1"}],"mark":{"type":"text","align":"right","baseline":"middle","dx":-2,"fontSize":14},"encoding":{"x":{"datum":4},"y":{"datum":102},"text":{"field":"t3"}}},
    {"transform":[{"filter":"datum.s=='info' && datum.p>1"}],"mark":{"type":"text","align":"right","baseline":"middle","dx":-2,"fontSize":14},"encoding":{"x":{"datum":4},"y":{"datum":225},"text":{"field":"t1"}}},
    {"transform":[{"filter":"datum.s=='info' && datum.p>1"}],"mark":{"type":"text","align":"right","baseline":"middle","dx":-2,"fontSize":14},"encoding":{"x":{"datum":4},"y":{"datum":160},"text":{"field":"t2"}}},
    {"transform":[{"filter":"datum.s=='info' && datum.p==1"}],"mark":{"type":"rule","color":"black","strokeWidth":1.3},"encoding":{"x":{"field":"nc","type":"quantitative"},"y":{"datum":210},"y2":{"datum":165}}},
    {"transform":[{"filter":"datum.s=='info' && datum.p==1"}],"mark":{"type":"text","text":"256","angle":270,"align":"center","baseline":"bottom","dy":-6,"fontSize":13},"encoding":{"x":{"datum":0},"y":{"datum":256}}},
    {"transform":[{"filter":"datum.s=='info' && datum.p==1"}],"mark":{"type":"text","text":"Events","angle":270,"align":"center","baseline":"bottom","dy":-6,"fontSize":13},"encoding":{"x":{"datum":0},"y":{"datum":128}}},
    {"transform":[{"filter":"datum.s=='info' && datum.p==4"}],"mark":{"type":"text","text":"10000","align":"right","baseline":"middle","dy":18,"fontSize":13},"encoding":{"x":{"datum":4},"y":{"datum":0}}}
   ]}
  },
  {"width":155,"height":82,"title":{"text":" ","fontSize":17,"offset":-12},"layer":[
   {"data":{"name":"bars"},"transform":[{"filter":"datum.g=='A2'"}],"mark":{"type":"bar","stroke":"black","strokeWidth":1},"encoding":{"x":{"field":"c","type":"nominal","scale":{"domain":["C","3","6","12","15","25","30"],"paddingInner":0.55,"paddingOuter":0.275},"axis":{"title":"dyn/cm²","titleFontSize":15,"titleFontWeight":"normal","titlePadding":1,"labelAngle":0,"ticks":false,"labelFontSize":15,"labelPadding":4}},"y":{"field":"v","type":"quantitative","title":"ROS production","scale":{"domain":[0,80],"nice":false},"axis":{"values":[0,20,40,60,80],"labelOverlap":false,"grid":false,"tickSize":4,"labelFontSize":15,"titleFontSize":15,"titleFontWeight":"normal","titlePadding":16,"labelPadding":2}},"color":{"condition":{"test":"datum.c=='C'","value":"white"},"value":"#a0a0a0"}}},
   {"data":{"name":"bars"},"transform":[{"filter":"datum.g=='A2' && datum.hi != null"}],"mark":{"type":"rule","color":"black","strokeWidth":1.2},"encoding":{"x":{"field":"c","type":"nominal"},"y":{"field":"v","type":"quantitative","axis":{"values":[0,20,40,60,80],"labelOverlap":false}},"y2":{"field":"hi"}}},
   {"data":{"name":"bars"},"transform":[{"filter":"datum.g=='A2' && datum.hi != null"}],"mark":{"type":"tick","color":"black","thickness":1.2,"size":8},"encoding":{"x":{"field":"c","type":"nominal"},"y":{"field":"hi","type":"quantitative","axis":{"values":[0,20,40,60,80],"labelOverlap":false}}}},
   {"data":{"name":"sig"},"transform":[{"filter":"datum.g=='A2'"}],"mark":{"type":"rule","color":"black","strokeWidth":1.5},"encoding":{"x":{"field":"from","type":"nominal","bandPosition":0},"x2":{"field":"to","bandPosition":1},"y":{"field":"lvl","type":"quantitative","axis":{"values":[0,20,40,60,80],"labelOverlap":false}}}},
   {"data":{"name":"sig"},"transform":[{"filter":"datum.g=='A2'"}],"mark":{"type":"text","text":"*","fontSize":18,"fontWeight":"bold","dx":-5,"dy":9,"baseline":"alphabetic"},"encoding":{"x":{"datum":"15"},"y":{"field":"lvl","type":"quantitative","axis":{"values":[0,20,40,60,80],"labelOverlap":false}}}}
  ]}
 ]}
 ]}
]},
{"spacing":-4,"vconcat":[
 {"spacing":0,"hconcat":[
  {"width":1,"height":1,"data":{"values":[{}]},"mark":{"type":"text","text":""},"title":{"text":"B","anchor":"start","fontSize":22,"fontWeight":"bold","offset":0}},
  {"width":586,"height":1,"data":{"values":[{}]},"mark":{"type":"text","text":""},"title":{"text":"Cellular superoxide","anchor":"middle","fontSize":15,"fontWeight":"bold","offset":0}}
 ]},
 {"spacing":-4,"vconcat":[
 {"spacing":5,"hconcat":[
  {"data":{"name":"B1"},"title":{"text":"EC monolayer","anchor":"middle","fontSize":17,"fontWeight":"bold","offset":4,"dx":-6},
   "facet":{"column":{"field":"p","type":"ordinal","header":null}},"spacing":12,"bounds":"flush","resolve":{"axis":{"y":"independent"}},
   "spec":{"width":114,"height":82,"layer":[
    {"encoding":{
     "x":{"field":"lg","type":"quantitative","title":"FL2-H","scale":{"domain":[0,4],"nice":false,"zero":false},"axis":{"values":[0,0.301,0.477,0.602,0.699,0.778,0.845,0.903,0.954,1,1.301,1.477,1.602,1.699,1.778,1.845,1.903,1.954,2,2.301,2.477,2.602,2.699,2.778,2.845,2.903,2.954,3,3.301,3.477,3.602,3.699,3.778,3.845,3.903,3.954,4],"labels":false,"grid":false,"tickSize":4,"titleFontSize":14,"titleFontWeight":"normal","titlePadding":1}},
     "y":{"field":"ev","type":"quantitative","stack":null,"title":null,"scale":{"domain":[0,256],"nice":false},"axis":{"values":[0,32,64,96,128,160,192,224,256],"labels":false,"grid":false,"tickSize":4}}},
     "layer":[
     {"transform":[{"filter":"datum.s=='neg'"}],"mark":{"type":"area","color":"#8c8c8c","line":{"color":"black","strokeWidth":1.2}}},
     {"transform":[{"filter":"datum.s=='test'"}],"mark":{"type":"line","color":"black","strokeWidth":1.3}}
    ]},
    {"transform":[{"filter":"datum.s=='info'"}],"mark":{"type":"rule","color":"black","strokeWidth":1.3},"encoding":{"x":{"field":"gate","type":"quantitative"},"x2":{"datum":4},"y":{"datum":103}}},
    {"transform":[{"filter":"datum.s=='info'"}],"mark":{"type":"rule","color":"black","strokeWidth":1.3},"encoding":{"x":{"field":"gate","type":"quantitative"},"y":{"datum":0},"y2":{"datum":153}}},
    {"transform":[{"filter":"datum.s=='info'"}],"mark":{"type":"rule","color":"black","strokeWidth":1.3},"encoding":{"x":{"datum":4},"y":{"datum":0},"y2":{"datum":153}}},
    {"transform":[{"filter":"datum.s=='info' && datum.p==1"}],"mark":{"type":"text","align":"right","baseline":"middle","dx":-2,"fontSize":14},"encoding":{"x":{"datum":4},"y":{"datum":243},"text":{"field":"t1"}}},
    {"transform":[{"filter":"datum.s=='info' && datum.p==1"}],"mark":{"type":"text","align":"right","baseline":"middle","dx":-2,"fontSize":14},"encoding":{"x":{"datum":4},"y":{"datum":134},"text":{"field":"t2"}}},
    {"transform":[{"filter":"datum.s=='info' && datum.p==1"}],"mark":{"type":"text","align":"right","baseline":"middle","dx":-2,"fontSize":14},"encoding":{"x":{"datum":4},"y":{"datum":72},"text":{"field":"t3"}}},
    {"transform":[{"filter":"datum.s=='info' && datum.p>1"}],"mark":{"type":"text","align":"right","baseline":"middle","dx":-2,"fontSize":14},"encoding":{"x":{"datum":4},"y":{"datum":196},"text":{"field":"t1"}}},
    {"transform":[{"filter":"datum.s=='info' && datum.p>1"}],"mark":{"type":"text","align":"right","baseline":"middle","dx":-2,"fontSize":14},"encoding":{"x":{"datum":4},"y":{"datum":140},"text":{"field":"t2"}}},
    {"transform":[{"filter":"datum.s=='info' && datum.p==1"}],"mark":{"type":"rule","color":"black","strokeWidth":1.3},"encoding":{"x":{"field":"nc","type":"quantitative"},"y":{"datum":212},"y2":{"datum":182}}},
    {"transform":[{"filter":"datum.s=='info' && datum.p==1"}],"mark":{"type":"text","text":"256","angle":270,"align":"center","baseline":"bottom","dy":-6,"fontSize":13},"encoding":{"x":{"datum":0},"y":{"datum":256}}},
    {"transform":[{"filter":"datum.s=='info' && datum.p==1"}],"mark":{"type":"text","text":"Events","angle":270,"align":"center","baseline":"bottom","dy":-6,"fontSize":13},"encoding":{"x":{"datum":0},"y":{"datum":128}}},
    {"transform":[{"filter":"datum.s=='info' && datum.p==4"}],"mark":{"type":"text","text":"10000","align":"right","baseline":"middle","dy":18,"fontSize":13},"encoding":{"x":{"datum":4},"y":{"datum":0}}}
   ]}
  },
  {"width":155,"height":82,"title":{"text":" ","fontSize":17,"offset":-12},"layer":[
   {"data":{"name":"bars"},"transform":[{"filter":"datum.g=='B1'"}],"mark":{"type":"bar","stroke":"black","strokeWidth":1},"encoding":{"x":{"field":"c","type":"nominal","scale":{"domain":["C","3","6","12","15","25","30"],"paddingInner":0.55,"paddingOuter":0.275},"axis":{"title":null,"labelAngle":0,"ticks":false,"labelFontSize":15,"labelPadding":4}},"y":{"field":"v","type":"quantitative","title":["Superoxide","production"],"scale":{"domain":[0,80],"nice":false},"axis":{"values":[0,20,40,60,80],"labelOverlap":false,"grid":false,"tickSize":4,"labelFontSize":15,"titleFontSize":15,"titleFontWeight":"normal","titlePadding":9,"labelPadding":2}},"color":{"condition":{"test":"datum.c=='C'","value":"white"},"value":"#a0a0a0"}}},
   {"data":{"name":"bars"},"transform":[{"filter":"datum.g=='B1' && datum.hi != null"}],"mark":{"type":"rule","color":"black","strokeWidth":1.2},"encoding":{"x":{"field":"c","type":"nominal"},"y":{"field":"v","type":"quantitative","axis":{"values":[0,20,40,60,80],"labelOverlap":false}},"y2":{"field":"hi"}}},
   {"data":{"name":"bars"},"transform":[{"filter":"datum.g=='B1' && datum.hi != null"}],"mark":{"type":"tick","color":"black","thickness":1.2,"size":8},"encoding":{"x":{"field":"c","type":"nominal"},"y":{"field":"hi","type":"quantitative","axis":{"values":[0,20,40,60,80],"labelOverlap":false}}}},
   {"data":{"name":"sig"},"transform":[{"filter":"datum.g=='B1'"}],"mark":{"type":"rule","color":"black","strokeWidth":1.5},"encoding":{"x":{"field":"from","type":"nominal","bandPosition":0},"x2":{"field":"to","bandPosition":1},"y":{"field":"lvl","type":"quantitative","axis":{"values":[0,20,40,60,80],"labelOverlap":false}}}},
   {"data":{"name":"sig"},"transform":[{"filter":"datum.g=='B1'"}],"mark":{"type":"text","text":"*","fontSize":18,"fontWeight":"bold","dx":-5,"dy":9,"baseline":"alphabetic"},"encoding":{"x":{"datum":"15"},"y":{"field":"lvl","type":"quantitative","axis":{"values":[0,20,40,60,80],"labelOverlap":false}}}}
  ]}
 ]},
 {"spacing":5,"hconcat":[
  {"data":{"name":"B2"},"title":{"text":"SMC monolayer","anchor":"middle","fontSize":17,"fontWeight":"bold","offset":4,"dx":-6},
   "facet":{"column":{"field":"p","type":"ordinal","header":null}},"spacing":12,"bounds":"flush","resolve":{"axis":{"y":"independent"}},
   "spec":{"width":114,"height":82,"layer":[
    {"encoding":{
     "x":{"field":"lg","type":"quantitative","title":"FL2-H","scale":{"domain":[0,4],"nice":false,"zero":false},"axis":{"values":[0,0.301,0.477,0.602,0.699,0.778,0.845,0.903,0.954,1,1.301,1.477,1.602,1.699,1.778,1.845,1.903,1.954,2,2.301,2.477,2.602,2.699,2.778,2.845,2.903,2.954,3,3.301,3.477,3.602,3.699,3.778,3.845,3.903,3.954,4],"labels":false,"grid":false,"tickSize":4,"titleFontSize":14,"titleFontWeight":"normal","titlePadding":1}},
     "y":{"field":"ev","type":"quantitative","stack":null,"title":null,"scale":{"domain":[0,256],"nice":false},"axis":{"values":[0,32,64,96,128,160,192,224,256],"labels":false,"grid":false,"tickSize":4}}},
     "layer":[
     {"transform":[{"filter":"datum.s=='neg'"}],"mark":{"type":"area","color":"#8c8c8c","line":{"color":"black","strokeWidth":1.2}}},
     {"transform":[{"filter":"datum.s=='test'"}],"mark":{"type":"line","color":"black","strokeWidth":1.3}}
    ]},
    {"transform":[{"filter":"datum.s=='info'"}],"mark":{"type":"rule","color":"black","strokeWidth":1.3},"encoding":{"x":{"field":"gate","type":"quantitative"},"x2":{"datum":4},"y":{"datum":108}}},
    {"transform":[{"filter":"datum.s=='info'"}],"mark":{"type":"rule","color":"black","strokeWidth":1.3},"encoding":{"x":{"field":"gate","type":"quantitative"},"y":{"datum":0},"y2":{"datum":154}}},
    {"transform":[{"filter":"datum.s=='info'"}],"mark":{"type":"rule","color":"black","strokeWidth":1.3},"encoding":{"x":{"datum":4},"y":{"datum":0},"y2":{"datum":154}}},
    {"transform":[{"filter":"datum.s=='info' && datum.p==1"}],"mark":{"type":"text","align":"right","baseline":"middle","dx":-2,"fontSize":14},"encoding":{"x":{"datum":4},"y":{"datum":244},"text":{"field":"t1"}}},
    {"transform":[{"filter":"datum.s=='info' && datum.p==1"}],"mark":{"type":"text","align":"right","baseline":"middle","dx":-2,"fontSize":14},"encoding":{"x":{"datum":4},"y":{"datum":138},"text":{"field":"t2"}}},
    {"transform":[{"filter":"datum.s=='info' && datum.p==1"}],"mark":{"type":"text","align":"right","baseline":"middle","dx":-2,"fontSize":14},"encoding":{"x":{"datum":4},"y":{"datum":78},"text":{"field":"t3"}}},
    {"transform":[{"filter":"datum.s=='info' && datum.p>1"}],"mark":{"type":"text","align":"right","baseline":"middle","dx":-2,"fontSize":14},"encoding":{"x":{"datum":4},"y":{"datum":229},"text":{"field":"t1"}}},
    {"transform":[{"filter":"datum.s=='info' && datum.p>1"}],"mark":{"type":"text","align":"right","baseline":"middle","dx":-2,"fontSize":14},"encoding":{"x":{"datum":4},"y":{"datum":166},"text":{"field":"t2"}}},
    {"transform":[{"filter":"datum.s=='info' && datum.p==1"}],"mark":{"type":"rule","color":"black","strokeWidth":1.3},"encoding":{"x":{"field":"nc","type":"quantitative"},"y":{"datum":220},"y2":{"datum":184}}},
    {"transform":[{"filter":"datum.s=='info' && datum.p==1"}],"mark":{"type":"text","text":"256","angle":270,"align":"center","baseline":"bottom","dy":-6,"fontSize":13},"encoding":{"x":{"datum":0},"y":{"datum":256}}},
    {"transform":[{"filter":"datum.s=='info' && datum.p==1"}],"mark":{"type":"text","text":"Events","angle":270,"align":"center","baseline":"bottom","dy":-6,"fontSize":13},"encoding":{"x":{"datum":0},"y":{"datum":128}}},
    {"transform":[{"filter":"datum.s=='info' && datum.p==4"}],"mark":{"type":"text","text":"10000","align":"right","baseline":"middle","dy":18,"fontSize":13},"encoding":{"x":{"datum":4},"y":{"datum":0}}}
   ]}
  },
  {"width":155,"height":82,"title":{"text":" ","fontSize":17,"offset":-12},"layer":[
   {"data":{"name":"bars"},"transform":[{"filter":"datum.g=='B2'"}],"mark":{"type":"bar","stroke":"black","strokeWidth":1},"encoding":{"x":{"field":"c","type":"nominal","scale":{"domain":["C","3","6","12","15","25","30"],"paddingInner":0.55,"paddingOuter":0.275},"axis":{"title":"dyn/cm²","titleFontSize":15,"titleFontWeight":"normal","titlePadding":1,"labelAngle":0,"ticks":false,"labelFontSize":15,"labelPadding":4}},"y":{"field":"v","type":"quantitative","title":["Superoxide","production"],"scale":{"domain":[0,80],"nice":false},"axis":{"values":[0,20,40,60,80],"labelOverlap":false,"grid":false,"tickSize":4,"labelFontSize":15,"titleFontSize":15,"titleFontWeight":"normal","titlePadding":9,"labelPadding":2}},"color":{"condition":{"test":"datum.c=='C'","value":"white"},"value":"#a0a0a0"}}},
   {"data":{"name":"bars"},"transform":[{"filter":"datum.g=='B2' && datum.hi != null"}],"mark":{"type":"rule","color":"black","strokeWidth":1.2},"encoding":{"x":{"field":"c","type":"nominal"},"y":{"field":"v","type":"quantitative","axis":{"values":[0,20,40,60,80],"labelOverlap":false}},"y2":{"field":"hi"}}},
   {"data":{"name":"bars"},"transform":[{"filter":"datum.g=='B2' && datum.hi != null"}],"mark":{"type":"tick","color":"black","thickness":1.2,"size":8},"encoding":{"x":{"field":"c","type":"nominal"},"y":{"field":"hi","type":"quantitative","axis":{"values":[0,20,40,60,80],"labelOverlap":false}}}},
   {"data":{"name":"sig"},"transform":[{"filter":"datum.g=='B2'"}],"mark":{"type":"rule","color":"black","strokeWidth":1.5},"encoding":{"x":{"field":"from","type":"nominal","bandPosition":0},"x2":{"field":"to","bandPosition":1},"y":{"field":"lvl","type":"quantitative","axis":{"values":[0,20,40,60,80],"labelOverlap":false}}}},
   {"data":{"name":"sig"},"transform":[{"filter":"datum.g=='B2'"}],"mark":{"type":"text","text":"*","fontSize":18,"fontWeight":"bold","dx":-5,"dy":9,"baseline":"alphabetic"},"encoding":{"x":{"datum":"15"},"y":{"field":"lvl","type":"quantitative","axis":{"values":[0,20,40,60,80],"labelOverlap":false}}}}
  ]}
 ]}
 ]}
]}
]
}
